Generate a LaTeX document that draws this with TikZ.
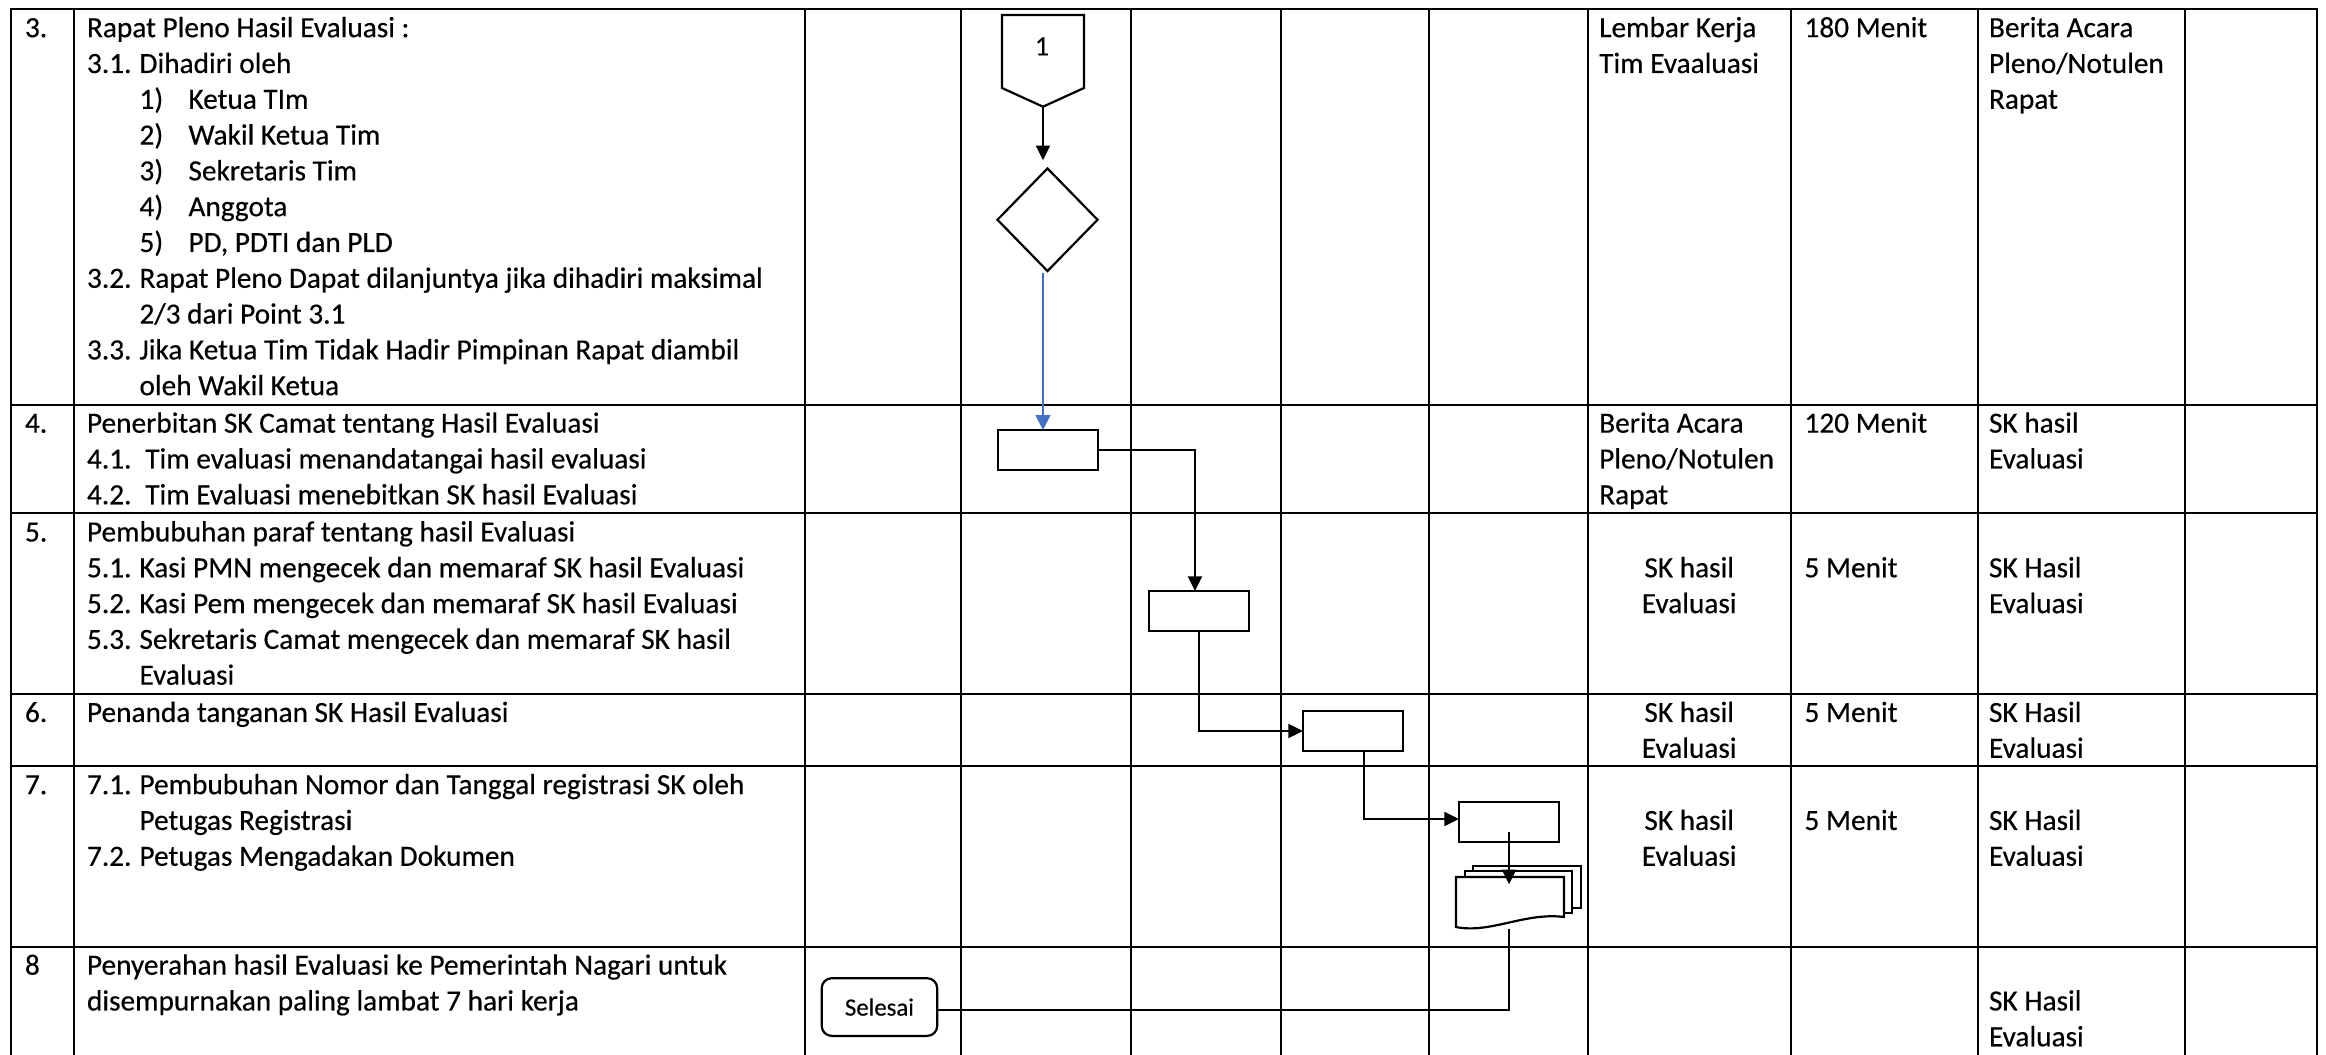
\documentclass[tikz,border=0pt]{standalone}
\usepackage{fontspec}
\setmainfont{Carlito}[FakeBold=0.4]
\usetikzlibrary{shapes.geometric,arrows.meta,calc}
\definecolor{flowblue}{RGB}{68,114,196}
\newcommand\cellfont{\fontsize{14.65pt}{17.9pt}\selectfont}
\newcommand\lbl[2]{\makebox[#1][l]{#2}}
\begin{document}
\begin{tikzpicture}[x=0.5pt,y=-0.5pt,
  grid/.style={line width=1pt},
  cell/.style={anchor=north west,inner sep=0pt,outer sep=0pt,align=left,font=\cellfont},
  ccell/.style={anchor=north,inner sep=0pt,outer sep=0pt,align=center,font=\cellfont},
  shp/.style={draw,line width=1.1pt},
  proc/.style={shp,fill=white,minimum width=50pt,minimum height=20pt,inner sep=0pt,outer sep=0pt},
  dec/.style={shp,diamond,minimum width=50.5pt,minimum height=51.75pt,inner sep=0pt},
  term/.style={shp,rounded corners=5pt,minimum width=57.75pt,minimum height=28.85pt,inner sep=0pt,font=\fontsize{12.4pt}{14pt}\selectfont},
  arr/.style={line width=1pt,-{Triangle[length=7.3pt,width=7pt]}},
  barr/.style={line width=0.9pt,draw=flowblue,-{Triangle[length=7.5pt,width=7.5pt]},color=flowblue},
  conn/.style={line width=1pt}
]
\useasboundingbox (0,0) rectangle (2326,1055);
\fill[white] (0,0) rectangle (2326,1055);

% ---------- table grid ----------
\foreach \yy in {9,405,513,694,766,947}
  \draw[grid] (10,\yy) -- (2318,\yy);
\foreach \xx in {11,74,805,961,1131,1281,1429,1588,1791,1978,2185,2317}
  \draw[grid] (\xx,8) -- (\xx,1056);

% ---------- row 3 ----------
\node[cell] (n3) at (25,12.1) {\strut 3.};
\node[cell] (d3) at (87,12.1) {\strut Rapat Pleno Hasil Evaluasi :\\
\lbl{26.25pt}{3.1.}Dihadiri oleh\\
\hspace{26.25pt}\lbl{24.5pt}{1)}Ketua TIm\\
\hspace{26.25pt}\lbl{24.5pt}{2)}Wakil Ketua Tim\\
\hspace{26.25pt}\lbl{24.5pt}{3)}Sekretaris Tim\\
\hspace{26.25pt}\lbl{24.5pt}{4)}Anggota\\
\hspace{26.25pt}\lbl{24.5pt}{5)}PD, PDTI dan PLD\\
\lbl{26.25pt}{3.2.}Rapat Pleno Dapat dilanjuntya jika dihadiri maksimal\\
\hspace{26.25pt}2/3 dari Point 3.1\\
\lbl{26.25pt}{3.3.}Jika Ketua Tim Tidak Hadir Pimpinan Rapat diambil\\
\hspace{26.25pt}oleh Wakil Ketua};
\node[cell] (i3) at (1599.2,12.1) {\strut Lembar Kerja\\Tim Evaaluasi};
\node[cell] (w3) at (1804.5,12.1) {\strut 180 Menit};
\node[cell] (o3) at (1989,12.1) {\strut Berita Acara\\Pleno/Notulen\\Rapat};

% ---------- row 4 ----------
\node[cell] (n4) at (25,407.6) {\strut 4.};
\node[cell] (d4) at (87,407.6) {\strut Penerbitan SK Camat tentang Hasil Evaluasi\\
\lbl{29.15pt}{4.1.}Tim evaluasi menandatangai hasil evaluasi\\
\lbl{29.15pt}{4.2.}Tim Evaluasi menebitkan SK hasil Evaluasi};
\node[cell] (i4) at (1599.2,407.6) {\strut Berita Acara\\Pleno/Notulen\\Rapat};
\node[cell] (w4) at (1804.5,407.6) {\strut 120 Menit};
\node[cell] (o4) at (1989,407.6) {\strut SK hasil\\Evaluasi};

% ---------- row 5 ----------
\node[cell] (n5) at (25,516.4) {\strut 5.};
\node[cell] (d5) at (87,516.4) {\strut Pembubuhan paraf tentang hasil Evaluasi\\
\lbl{26.25pt}{5.1.}Kasi PMN mengecek dan memaraf SK hasil Evaluasi\\
\lbl{26.25pt}{5.2.}Kasi Pem mengecek dan memaraf SK hasil Evaluasi\\
\lbl{26.25pt}{5.3.}Sekretaris Camat mengecek dan memaraf SK hasil\\
\hspace{26.25pt}Evaluasi};
\node[ccell] (i5) at (1689.2,552.2) {\strut SK hasil\\Evaluasi};
\node[cell] (w5) at (1804.5,552.2) {\strut 5 Menit};
\node[cell] (o5) at (1989,552.2) {\strut SK Hasil\\Evaluasi};

% ---------- row 6 ----------
\node[cell] (n6) at (25,696.9) {\strut 6.};
\node[cell] (d6) at (87,696.9) {\strut Penanda tanganan SK Hasil Evaluasi};
\node[ccell] (i6) at (1689.2,696.9) {\strut SK hasil\\Evaluasi};
\node[cell] (w6) at (1804.5,696.9) {\strut 5 Menit};
\node[cell] (o6) at (1989,696.9) {\strut SK Hasil\\Evaluasi};

% ---------- row 7 ----------
\node[cell] (n7) at (25,769.1) {\strut 7.};
\node[cell] (d7) at (87,769.1) {\strut \lbl{26.25pt}{7.1.}Pembubuhan Nomor dan Tanggal registrasi SK oleh\\
\hspace{26.25pt}Petugas Registrasi\\
\lbl{26.25pt}{7.2.}Petugas Mengadakan Dokumen};
\node[ccell] (i7) at (1689.2,804.9) {\strut SK hasil\\Evaluasi};
\node[cell] (w7) at (1804.5,804.9) {\strut 5 Menit};
\node[cell] (o7) at (1989,804.9) {\strut SK Hasil\\Evaluasi};

% ---------- row 8 ----------
\node[cell] (n8) at (25,949.6) {\strut 8};
\node[cell] (d8) at (87,949.6) {\strut Penyerahan hasil Evaluasi ke Pemerintah Nagari untuk\\
disempurnakan paling lambat 7 hari kerja};
\node[cell] (o8) at (1989,985.4) {\strut SK Hasil\\Evaluasi};

% ---------- flowchart ----------
% off-page connector
\draw[shp,fill=white] (1002,15) -- (1084,15) -- (1084,88) -- (1043,106.7) -- (1002,88) -- cycle;
\node[inner sep=0pt,font=\fontsize{14pt}{16pt}\selectfont] (c1) at (1042,46.3) {1};
\coordinate (c1tip) at (1043,106.7);

\node[dec] (dia) at (1047.5,219.75) {};
\node[proc] (r4) at (1048,450) {};
\node[proc] (r5) at (1199,611) {};
\node[proc] (r6) at (1353,731) {};
\node[proc] (r7) at (1509,822) {};

% multi-document
\draw[shp,fill=white] (1473,866) rectangle (1581,908);
\draw[shp,fill=white] (1465,871) rectangle (1572,913);
\draw[shp,fill=white] (1456,877) -- (1564,877) -- (1564,917)
  .. controls (1525,912) and (1490,934) .. (1456,927) -- cycle;
\coordinate (docin) at (1509,884.3);
\coordinate (docb) at (1509,929);

\node[term] (sel) at (879.45,1007.05) {Selesai};

% connectors
\draw[arr] (c1tip) -- ($(c1tip |- dia.north)+(0,-6.7)$);
\draw[barr] (c1tip |- dia.south) -- (c1tip |- r4.north);
\draw[arr] (r4.east) -| ([xshift=-2pt]r5.north);
\draw[arr] (r5.south) |- (r6.west);
\draw[arr] ($(r6.south)+(11,0)$) |- ([yshift=1.5pt]r7.west);
\draw[arr] ($(r7.center)+(0,9.5)$) -- (docin);
\draw[conn] (docb) |- ([yshift=-1.5pt]sel.east);
\end{tikzpicture}
\end{document}
